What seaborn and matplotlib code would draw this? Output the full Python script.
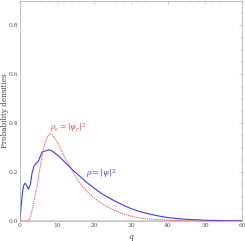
import numpy as np
import pandas as pd
import matplotlib
matplotlib.use("Agg")
import matplotlib.pyplot as plt
import seaborn as sns

q_rho = [0, 0.3, 0.7, 1.0, 1.4, 1.8, 2.3, 2.8, 3.3, 3.8, 4.5, 5.0, 5.5, 6.0, 6.5, 7.0, 7.7, 8.5, 9.5,
         10.5, 12, 14, 16, 18, 20, 22, 24, 26, 28, 30, 32, 34, 36, 38, 40, 43, 46, 50, 55, 60]
rho = [0, 0.06, 0.12, 0.145, 0.155, 0.145, 0.13, 0.15, 0.20, 0.225, 0.238, 0.245, 0.265, 0.282, 0.285,
       0.287, 0.291, 0.288, 0.277, 0.265, 0.243, 0.212, 0.185, 0.158, 0.135, 0.113, 0.095, 0.079, 0.064,
       0.051, 0.040, 0.032, 0.025, 0.019, 0.014, 0.009, 0.006, 0.003, 0.0015, 0.0005]

q_rhoc = [0, 1.8, 2.5, 3.0, 3.6, 4.0, 4.5, 5.0, 5.5, 6.0, 6.5, 7.0, 7.5, 8.1, 8.7, 9.5, 10.5, 11.5, 12.5,
          13.5, 14.5, 15.5, 17, 19, 21, 23, 25, 27, 29, 31, 33, 35, 38, 40, 45, 50, 60]
rhoc = [0, 0, 0.005, 0.025, 0.07, 0.10, 0.135, 0.18, 0.225, 0.27, 0.305, 0.33, 0.348, 0.357, 0.353, 0.337,
        0.31, 0.28, 0.25, 0.225, 0.195, 0.17, 0.14, 0.107, 0.083, 0.063, 0.047, 0.034, 0.024, 0.016, 0.011,
        0.008, 0.005, 0.003, 0.001, 0.0005, 0]

x_ticks = [0, 10, 20, 30, 40, 50, 60]
y_ticks = [0.0, 0.2, 0.4, 0.6, 0.8]
x_label = "q"
y_label = "Probability densities"
label_rho = r"$\rho = |\psi|^2$"
label_rhoc = r"$\rho_c = |\psi_c|^2$"

sns.set_style("white")
plt.rcParams['font.family'] = ['DejaVu Serif']
plt.rcParams['mathtext.fontset'] = 'dejavuserif'

fig = plt.figure(figsize=(2.45, 2.41), dpi=100)
ax = fig.add_axes([20/245, 20/241, 222/245, 220/241])

df1 = pd.DataFrame({"q": q_rho, "v": rho})
df2 = pd.DataFrame({"q": q_rhoc, "v": rhoc})
ax.axhline(0, color="#d8d8d8", lw=1.5, zorder=0)
sns.lineplot(data=df1, x="q", y="v", ax=ax, color="#3a3aff", lw=0.8)
sns.lineplot(data=df2, x="q", y="v", ax=ax, color="#ff4040", lw=0.7, linestyle=(0, (1.2, 1.0)))

ax.set_xlim(0, 60)
ax.set_ylim(0, 0.9)
ax.set_xticks(x_ticks)
ax.set_yticks(y_ticks)
ax.set_xticklabels([str(t) for t in x_ticks])
ax.set_yticklabels([f"{t:.1f}" for t in y_ticks])
ax.set_xticks(np.arange(0, 61, 2), minor=True)
ax.set_yticks(np.arange(0, 0.91, 0.05), minor=True)
ax.tick_params(which="both", direction="in", top=True, right=True, colors="#aaaaaa",
               labelcolor="#555555", labelsize=4.3, pad=1.5)
ax.tick_params(which="major", length=2.5, width=0.4)
ax.tick_params(which="minor", length=1.2, width=0.3)
for s in ax.spines.values():
    s.set_color("#aaaaaa")
    s.set_linewidth(0.5)

ax.set_xlabel(x_label, fontsize=5.5, style="italic", color="#444444")
ax.xaxis.set_label_coords(0.5, -0.055)
ax.set_ylabel(y_label, fontsize=5.2, color="#444444")
ax.yaxis.set_label_coords(-0.048, 0.5)

ax.text(8.0, 0.38, label_rhoc, color="#ff4040", fontsize=5.5, ha="left", va="center")
ax.text(17.8, 0.19, label_rho, color="#3a3aff", fontsize=5.5, ha="left", va="center")

fig.savefig("out.png", dpi=100)
